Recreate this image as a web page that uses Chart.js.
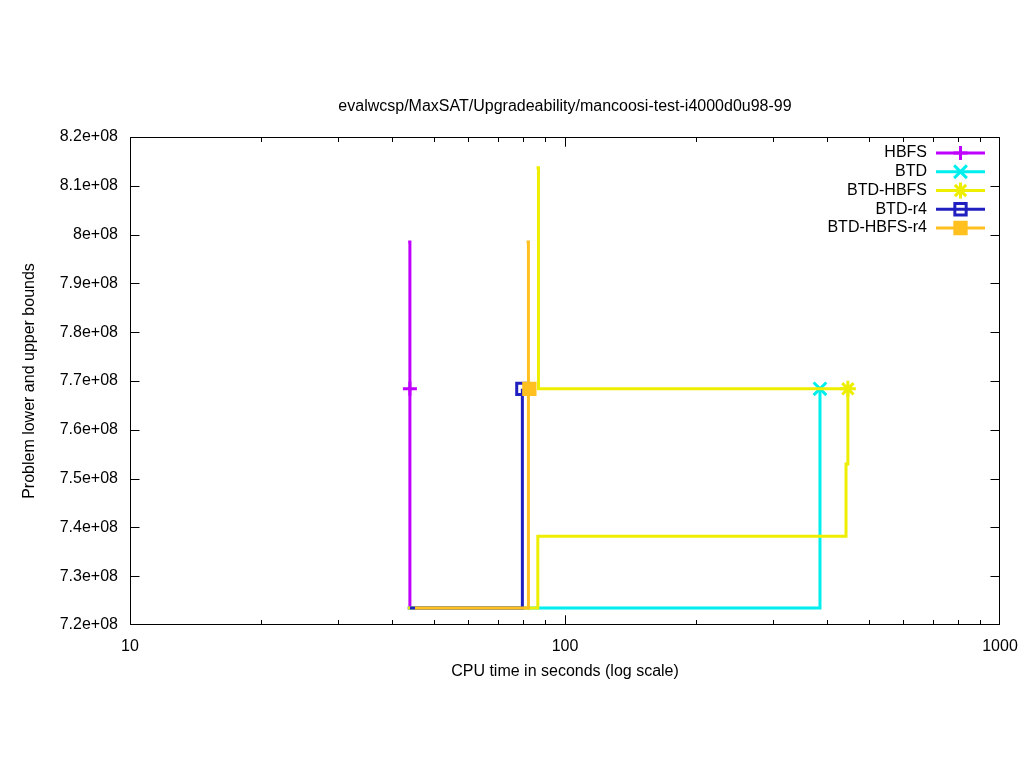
<!DOCTYPE html>
<html>
<head>
<meta charset="utf-8">
<script src="https://cdn.jsdelivr.net/npm/chart.js@4/dist/chart.umd.min.js"></script>
<style>
  body { margin: 0; background: #fff; }
  #wrap { width: 1024px; height: 768px; }
</style>
</head>
<body>
<div id="wrap"><canvas id="bounds" width="1024" height="768"></canvas></div>
<script>
// series names and colours (gnuplot order)
var names = ['HBFS', 'BTD', 'BTD-HBFS', 'BTD-r4', 'BTD-HBFS-r4'];
var colors = ['#c000ff', '#00eeee', '#eeee00', '#2020c0', '#ffc020'];
var markers = ['cross', 'crossRot', 'star', 'rect', 'rect'];

// lower bounds (time in s, value)
var hbfsLbT = [43.5, 44.0];            var hbfsLbV = [7.235e8, 7.684e8];
var btdLbT = [43.5, 385.6];            var btdLbV = [7.235e8, 7.684e8];
var btdHbfsLbT = [43.5, 86.6, 442.6, 447.0];
var btdHbfsLbV = [7.235e8, 7.382e8, 7.530e8, 7.684e8];
var r4LbT = [44.0, 79.8];              var r4LbV = [7.235e8, 7.684e8];
var hbfsR4LbT = [45.2, 82.4];          var hbfsR4LbV = [7.235e8, 7.684e8];

// upper bounds
var hbfsUbT = [43.6, 44.0];            var hbfsUbV = [7.985e8, 7.684e8];
var btdHbfsUbT = [86.0, 86.9, 447.0];  var btdHbfsUbV = [8.137e8, 7.684e8, 7.684e8];
var hbfsR4UbT = [81.6, 82.4];          var hbfsR4UbV = [7.985e8, 7.684e8];

// optimum found
var optT = [44.0, 385.6, 447.0, 79.8, 82.8];
var optV = [7.684e8, 7.684e8, 7.684e8, 7.684e8, 7.684e8];

var yTicks = [7.2e8, 7.3e8, 7.4e8, 7.5e8, 7.6e8, 7.7e8, 7.8e8, 7.9e8, 8.0e8, 8.1e8, 8.2e8];
var xTicks = [10, 100, 1000];

function pts(t, v) {
  return t.map(function (x, i) { return { x: x, y: v[i] }; });
}

var lbs = [[hbfsLbT, hbfsLbV], [btdLbT, btdLbV], [btdHbfsLbT, btdHbfsLbV], [r4LbT, r4LbV], [hbfsR4LbT, hbfsR4LbV]];
var ubs = [[hbfsUbT, hbfsUbV], null, [btdHbfsUbT, btdHbfsUbV], null, [hbfsR4UbT, hbfsR4UbV]];
var radii = [7, 9, 8, 8, 8];

var datasets = [];
names.forEach(function (n, i) {
  var ord = 10 - i;  // later series on top, like gnuplot
  datasets.push({
    label: n, data: pts(lbs[i][0], lbs[i][1]), stepped: true, showLine: true,
    borderColor: colors[i], borderWidth: 3, pointRadius: 0, order: ord
  });
  if (ubs[i]) {
    datasets.push({
      label: n + ' ub', data: pts(ubs[i][0], ubs[i][1]), stepped: true, showLine: true,
      borderColor: colors[i], borderWidth: 3, pointRadius: 0, order: ord
    });
  }
  datasets.push({
    label: n + ' opt', data: [{ x: optT[i], y: optV[i] }], showLine: false,
    pointStyle: markers[i], pointRadius: radii[i],
    pointBorderWidth: 3, borderColor: colors[i],
    pointBackgroundColor: i == 4 ? colors[i] : 'rgba(0,0,0,0)',
    order: ord - 0.5
  });
});

function fmtY(v) {
  return +(v / 1e8).toFixed(2) + 'e+08';
}

var frame = {
  id: 'frame',
  afterDraw: function (chart) {
    var ctx = chart.ctx, a = chart.chartArea;
    var xs = chart.scales.x, ys = chart.scales.y;
    var l = a.left + 0.5, r = a.right - 0.5, t = a.top + 0.5, b = a.bottom - 0.5;
    ctx.save();
    ctx.strokeStyle = '#000';
    ctx.lineWidth = 1;
    ctx.beginPath();
    ctx.rect(l, t, r - l, b - t);
    // y ticks left and right
    yTicks.forEach(function (v) {
      var y = Math.min(Math.max(Math.round(ys.getPixelForValue(v)) + 0.5, t), b);
      ctx.moveTo(l, y); ctx.lineTo(l + 9, y);
      ctx.moveTo(r, y); ctx.lineTo(r - 9, y);
    });
    // x ticks, major and minor, bottom and top
    for (var d = 10; d < 1000; d *= 10) {
      for (var k = 1; k <= 10; k++) {
        var x = Math.min(Math.max(Math.round(xs.getPixelForValue(d * k)) + 0.5, l), r);
        var len = (k == 1 || k == 10) ? 9 : 4.5;
        ctx.moveTo(x, b); ctx.lineTo(x, b - len);
        ctx.moveTo(x, t); ctx.lineTo(x, t + len);
      }
    }
    ctx.stroke();

    // titles
    ctx.fillStyle = '#000';
    ctx.font = '16px "Liberation Sans"';
    ctx.textAlign = 'center';
    ctx.textBaseline = 'middle';
    ctx.fillText('evalwcsp/MaxSAT/Upgradeability/mancoosi-test-i4000d0u98-99', (a.left + a.right) / 2, 107);
    ctx.fillText('CPU time in seconds (log scale)', (a.left + a.right) / 2, 672);
    ctx.save();
    ctx.translate(30, (a.top + a.bottom) / 2);
    ctx.rotate(-Math.PI / 2);
    ctx.fillText('Problem lower and upper bounds', 0, 0);
    ctx.restore();

    // legend
    names.forEach(function (n, i) {
      var y = 153 + i * 18.75;
      ctx.textAlign = 'right';
      ctx.fillStyle = '#000';
      ctx.fillText(n, 927, y);
      ctx.strokeStyle = colors[i];
      ctx.lineWidth = 3;
      ctx.beginPath();
      ctx.moveTo(936, y); ctx.lineTo(985, y);
      ctx.stroke();
      ctx.fillStyle = i == 4 ? colors[i] : 'rgba(0,0,0,0)';
      Chart.helpers.drawPoint(ctx, {
        pointStyle: markers[i], radius: radii[i], rotation: 0, borderWidth: 3
      }, 960.5, y);
    });
    ctx.restore();
  }
};

Chart.defaults.font.family = '"Liberation Sans", Arial, sans-serif';
Chart.defaults.font.size = 16;
Chart.defaults.color = '#000';

new Chart(document.getElementById('bounds'), {
  type: 'scatter',
  data: { datasets: datasets },
  options: {
    responsive: false,
    animation: false,
    layout: { padding: { top: 137, right: 24, left: 0, bottom: 0 } },
    plugins: { legend: { display: false }, tooltip: { enabled: false } },
    scales: {
      x: {
        type: 'logarithmic', min: 10, max: 1000,
        grid: { display: false, drawTicks: false }, border: { display: false },
        afterBuildTicks: function (s) { s.ticks = xTicks.map(function (v) { return { value: v }; }); },
        afterFit: function (s) { s.height = 143; s.paddingRight = 0; },
        ticks: { autoSkip: false, maxRotation: 0, padding: 12, callback: function (v) { return String(v); } }
      },
      y: {
        min: 7.2e8, max: 8.2e8,
        grid: { display: false, drawTicks: false }, border: { display: false },
        afterBuildTicks: function (s) { s.ticks = yTicks.map(function (v) { return { value: v }; }); },
        afterFit: function (s) { s.width = 130; },
        ticks: { autoSkip: false, padding: 12, callback: function (v) { return fmtY(v); } }
      }
    }
  },
  plugins: [frame]
});
</script>
</body>
</html>
